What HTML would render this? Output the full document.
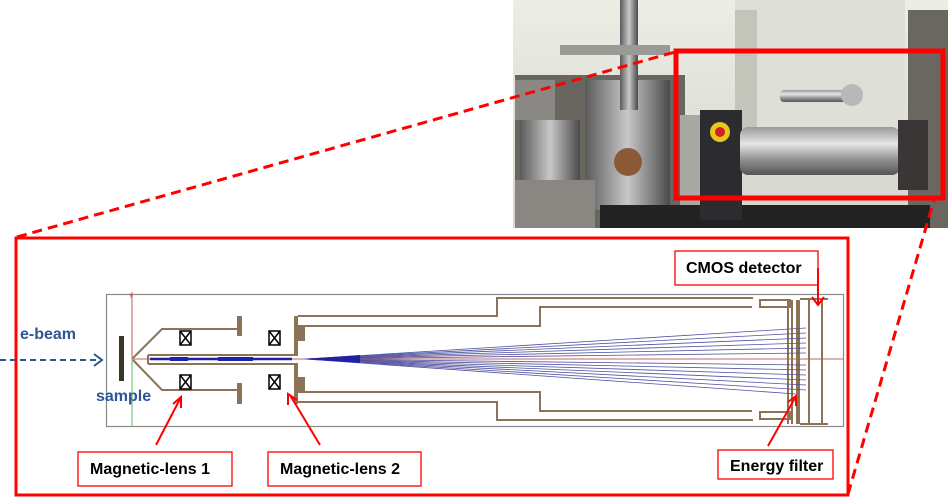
<!DOCTYPE html>
<html><head><style>
body{margin:0;background:#fff;width:948px;height:498px;overflow:hidden;font-family:"Liberation Sans",sans-serif}
</style></head><body>
<svg width="948" height="498" viewBox="0 0 948 498" xmlns="http://www.w3.org/2000/svg" style="position:absolute;left:0;top:0">
<defs>
<linearGradient id="wall" x1="0" y1="0" x2="0" y2="1"><stop offset="0" stop-color="#eceee6"/><stop offset="1" stop-color="#d4d4cc"/></linearGradient>
<linearGradient id="cyl" x1="0" y1="0" x2="0" y2="1"><stop offset="0" stop-color="#9a9a9a"/><stop offset="0.35" stop-color="#e6e6e6"/><stop offset="0.7" stop-color="#8c8c8c"/><stop offset="1" stop-color="#555"/></linearGradient>
<linearGradient id="metal" x1="0" y1="0" x2="1" y2="0"><stop offset="0" stop-color="#5a5a5a"/><stop offset="0.5" stop-color="#c8c8c8"/><stop offset="1" stop-color="#4a4a4a"/></linearGradient>
</defs>
<!-- photo -->
<rect x="513" y="0" width="435" height="228" fill="url(#wall)"/>
<rect x="735" y="0" width="170" height="130" fill="#dedfd6"/>
<rect x="735" y="10" width="22" height="120" fill="#c4c5ba"/>
<rect x="908" y="10" width="40" height="218" fill="#6a6660"/>
<rect x="515" y="75" width="170" height="153" fill="#68665f"/>
<rect x="515" y="80" width="40" height="40" fill="#8a8884"/>
<rect x="520" y="120" width="60" height="70" fill="url(#metal)"/>
<rect x="585" y="80" width="85" height="130" fill="url(#metal)"/>
<rect x="620" y="0" width="18" height="110" fill="url(#metal)"/>
<rect x="560" y="45" width="110" height="10" fill="#9a9a96"/>
<rect x="515" y="180" width="80" height="48" fill="#8a8782"/>
<circle cx="628" cy="162" r="14" fill="#8a5a38"/>
<rect x="600" y="205" width="330" height="23" fill="#222"/>
<rect x="680" y="115" width="50" height="90" fill="#a8a8a4"/>
<rect x="700" y="110" width="42" height="110" fill="#2c2c30"/>
<circle cx="720" cy="132" r="10" fill="#e8c818"/><circle cx="720" cy="132" r="5" fill="#d02020"/>
<rect x="740" y="127" width="160" height="48" rx="8" fill="url(#cyl)"/>
<rect x="780" y="90" width="80" height="12" rx="4" fill="url(#cyl)"/>
<circle cx="852" cy="95" r="11" fill="#b8b8b8"/>
<rect x="898" y="120" width="30" height="70" fill="#3a3636"/>
<!-- photo red box -->
<rect x="676" y="51" width="267" height="147" fill="none" stroke="#f00" stroke-width="5"/>
<!-- dashed connectors -->
<line x1="17" y1="237" x2="675" y2="52" stroke="#f00" stroke-width="3" stroke-dasharray="10,6"/>
<line x1="848" y1="494" x2="934" y2="200" stroke="#f00" stroke-width="3" stroke-dasharray="10,6"/>
<!-- big red box -->
<rect x="16" y="238" width="832" height="257" fill="#fff" stroke="#f00" stroke-width="3"/>
<!-- inner grey frame -->
<rect x="106.5" y="294.5" width="737" height="132" fill="none" stroke="#8a8a8a" stroke-width="1.2"/>
<line x1="132" y1="292" x2="132" y2="359" stroke="#b03030" stroke-width="0.8"/>
<line x1="132" y1="359" x2="132" y2="426" stroke="#30b030" stroke-width="0.8"/>
<line x1="132" y1="359" x2="843" y2="359" stroke="#b03030" stroke-width="0.7"/>
<text x="129" y="298" font-size="6" fill="#b03030">Y</text>
<!-- sample -->
<rect x="119" y="336" width="5" height="45" fill="#3c3626"/>
<!-- lens 1 -->
<g fill="none" stroke="#8b7355" stroke-width="2">
<polyline points="133,358 162,329 238,329"/>
<polyline points="133,360 162,390 238,390"/>
<polyline points="148,355 298,355"/>
<polyline points="148,364 298,364"/>
<line x1="148" y1="355" x2="148" y2="364"/>
<polyline points="298,316 497,316 497,298 753,298"/>
<polyline points="298,326 540,326 540,307 752,307"/>
<polyline points="298,402 497,402 497,420 753,420"/>
<polyline points="298,392 540,392 540,411 752,411"/>
</g>
<g fill="#8b7355">
<rect x="237" y="316" width="5" height="20"/>
<rect x="237" y="383" width="5" height="21"/>
<rect x="294" y="316" width="4" height="40"/>
<rect x="294" y="364" width="4" height="40"/>
<rect x="297" y="325" width="8" height="16"/>
<rect x="297" y="377" width="8" height="16"/>
<rect x="796" y="300" width="4" height="124"/>
<rect x="808" y="300" width="2" height="124"/>
<rect x="821" y="300" width="2" height="124"/>
<rect x="760" y="300" width="30" height="7" fill="none" stroke="#8b7355" stroke-width="2"/>
<rect x="760" y="412" width="30" height="7" fill="none" stroke="#8b7355" stroke-width="2"/>
<rect x="787" y="300" width="2" height="124"/>
<rect x="791" y="300" width="2" height="124"/>
</g>
<line x1="800" y1="299" x2="828" y2="299" stroke="#8b7355" stroke-width="2"/>
<line x1="800" y1="424" x2="828" y2="424" stroke="#8b7355" stroke-width="2"/>
<!-- coils -->
<g fill="#fff" stroke="#000" stroke-width="1.5">
<rect x="180" y="331" width="11" height="14"/><path d="M180,331L191,345M191,331L180,345"/>
<rect x="180" y="375" width="11" height="14"/><path d="M180,375L191,389M191,375L180,389"/>
<rect x="269" y="331" width="11" height="14"/><path d="M269,331L280,345M280,331L269,345"/>
<rect x="269" y="375" width="11" height="14"/><path d="M269,375L280,389M280,375L269,389"/>
</g>
<!-- beam -->
<line x1="150" y1="359" x2="292" y2="359" stroke="#2020a0" stroke-width="2.5"/>
<rect x="170" y="357" width="18" height="4" fill="#2020b0"/>
<rect x="218" y="357" width="35" height="4" fill="#2020b0"/>
<g stroke="#5050a0" stroke-width="0.8" fill="none">
<line x1="305" y1="359" x2="806" y2="328"/><line x1="305" y1="359" x2="806" y2="333"/>
<line x1="305" y1="359" x2="806" y2="338"/><line x1="305" y1="359" x2="806" y2="343"/>
<line x1="305" y1="359" x2="806" y2="348"/><line x1="305" y1="359" x2="806" y2="353"/>
<line x1="305" y1="359" x2="806" y2="365"/><line x1="305" y1="359" x2="806" y2="370"/>
<line x1="305" y1="359" x2="806" y2="375"/><line x1="305" y1="359" x2="806" y2="380"/>
<line x1="305" y1="359" x2="806" y2="385"/><line x1="305" y1="359" x2="806" y2="390"/>
<line x1="305" y1="359" x2="796" y2="394"/>
</g>
<path d="M305,359 L360,355 L360,363 Z" fill="#2020a0"/>
<!-- e-beam -->
<line x1="0" y1="360" x2="98" y2="360" stroke="#2f5597" stroke-width="2" stroke-dasharray="6,4"/>
<polyline points="94,354 102,360 94,366" fill="none" stroke="#2f5597" stroke-width="2"/>
<text x="20" y="339" font-size="16" font-weight="bold" fill="#2f5597">e-beam</text>
<text x="96" y="401" font-size="16" font-weight="bold" fill="#2f5597">sample</text>
<!-- labels -->
<g fill="#fff" stroke="#f00" stroke-width="1.3">
<rect x="78" y="452" width="154" height="34"/>
<rect x="268" y="452" width="153" height="34"/>
<rect x="718" y="450" width="115" height="29"/>
<rect x="675" y="251" width="143" height="34"/>
</g>
<g font-size="16" font-weight="bold" fill="#000">
<text x="90" y="474">Magnetic-lens 1</text>
<text x="280" y="474">Magnetic-lens 2</text>
<text x="730" y="471">Energy filter</text>
<text x="686" y="273">CMOS detector</text>
</g>
<g stroke="#f00" stroke-width="2" fill="none">
<line x1="156" y1="445" x2="180" y2="399"/><polyline points="173,404 181,397 181,408"/>
<line x1="320" y1="445" x2="290" y2="395"/><polyline points="288,405 288,394 297,400"/>
<line x1="768" y1="446" x2="795" y2="398"/><polyline points="788,402 796,396 796,406"/>
<polyline points="818,268 818,304"/><polyline points="812,297 818,305 824,297"/>
</g>
</svg>
</body></html>
